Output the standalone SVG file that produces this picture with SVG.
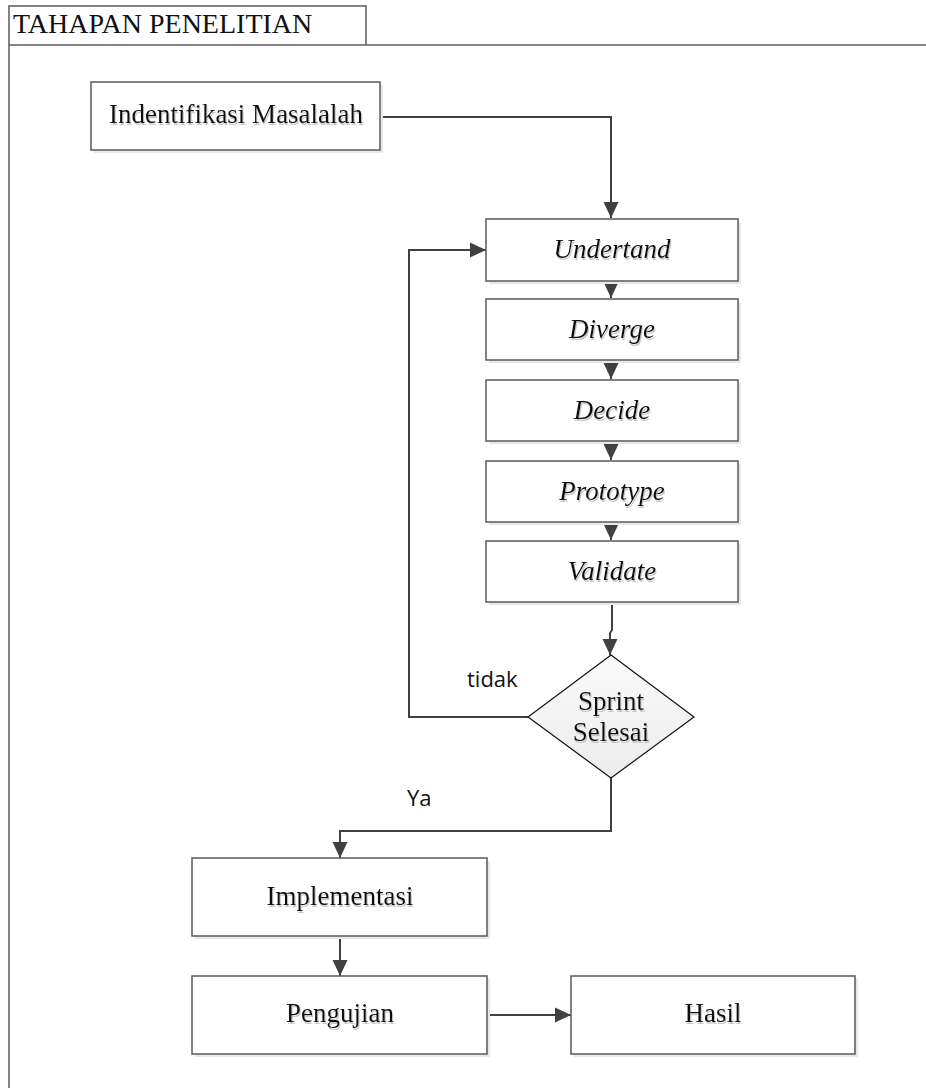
<svg xmlns="http://www.w3.org/2000/svg" width="926" height="1088" viewBox="0 0 926 1088">
  <defs>
    <style>
      .frame { fill: none; stroke: #5a5a5a; stroke-width: 1.5; }
      .box { fill: #ffffff; stroke: #5a5a5a; stroke-width: 1.5; }
      .shadow { fill: #e8e8e8; stroke: none; }
      .edge { fill: none; stroke: #404040; stroke-width: 2; }
    </style>
    <marker id="arr" markerWidth="18" markerHeight="18" refX="16" refY="8" orient="auto" markerUnits="userSpaceOnUse">
      <path d="M0,0.5 L16,8 L0,15.5 Z" fill="#404040"/>
    </marker>
    <linearGradient id="dfill" x1="0" y1="0" x2="0" y2="1">
      <stop offset="0" stop-color="#fafafa"/>
      <stop offset="1" stop-color="#ececec"/>
    </linearGradient>
    <filter id="ts" x="-10%" y="-30%" width="120%" height="160%">
      <feDropShadow dx="1" dy="2" stdDeviation="0.6" flood-color="#bbbbbb" flood-opacity="0.8"/>
    </filter>
  </defs>

  <!-- swimlane frame with title tab -->
  <g id="frame">
    <path class="frame" d="M9,1088 V6 H366 V45"/>
    <line class="frame" x1="9" y1="45" x2="926" y2="45"/>
    <text x="13" y="33" font-family="Liberation Serif, serif" font-size="28" fill="#111">TAHAPAN PENELITIAN</text>
  </g>

  <!-- connectors -->
  <g id="connectors">
    <path class="edge" d="M380,117 H611 V218" marker-end="url(#arr)"/>
    <path class="edge" d="M611,281 V298" marker-end="url(#arr)"/>
    <path class="edge" d="M611,360 V379" marker-end="url(#arr)"/>
    <path class="edge" d="M611,441 V460" marker-end="url(#arr)"/>
    <path class="edge" d="M611,522 V540" marker-end="url(#arr)"/>
    <path class="edge" d="M612,602 V630 L610,633 V655" marker-end="url(#arr)"/>
    <path class="edge" d="M528,717 H409 V250 H486" marker-end="url(#arr)"/>
    <path class="edge" d="M611,778 V831 H340 V858" marker-end="url(#arr)"/>
    <path class="edge" d="M340,936 V976" marker-end="url(#arr)"/>
    <path class="edge" d="M487,1015 H571" marker-end="url(#arr)"/>
    <g font-family="Open Sans, Liberation Sans, sans-serif" font-size="22" fill="#111">
      <text x="467" y="687">tidak</text>
      <text x="407" y="806">Ya</text>
    </g>
  </g>

  <g font-family="Liberation Serif, serif" font-size="27" fill="#111" text-anchor="middle">
    <g id="identifikasi">
      <rect class="shadow" x="94" y="85" width="289" height="68"/>
      <rect class="box" x="91" y="82" width="289" height="68"/>
      <text x="236" y="123" filter="url(#ts)">Indentifikasi Masalalah</text>
    </g>

    <g id="understand" font-style="italic">
      <rect class="shadow" x="489" y="222" width="252" height="62"/>
      <rect class="box" x="486" y="219" width="252" height="62"/>
      <text x="612" y="258" filter="url(#ts)">Undertand</text>
    </g>

    <g id="diverge" font-style="italic">
      <rect class="shadow" x="489" y="302" width="252" height="61"/>
      <rect class="box" x="486" y="299" width="252" height="61"/>
      <text x="612" y="338" filter="url(#ts)">Diverge</text>
    </g>

    <g id="decide" font-style="italic">
      <rect class="shadow" x="489" y="383" width="252" height="61"/>
      <rect class="box" x="486" y="380" width="252" height="61"/>
      <text x="612" y="419" filter="url(#ts)">Decide</text>
    </g>

    <g id="prototype" font-style="italic">
      <rect class="shadow" x="489" y="464" width="252" height="61"/>
      <rect class="box" x="486" y="461" width="252" height="61"/>
      <text x="612" y="500" filter="url(#ts)">Prototype</text>
    </g>

    <g id="validate" font-style="italic">
      <rect class="shadow" x="489" y="544" width="252" height="61"/>
      <rect class="box" x="486" y="541" width="252" height="61"/>
      <text x="612" y="580" filter="url(#ts)">Validate</text>
    </g>

    <g id="sprint-selesai">
      <path d="M611,655 L694,717 L611,778 L528,717 Z" fill="url(#dfill)" stroke="#111" stroke-width="1.2"/>
      <text x="611" y="710" filter="url(#ts)">Sprint</text>
      <text x="611" y="741" filter="url(#ts)">Selesai</text>
    </g>

    <g id="implementasi">
      <rect class="shadow" x="195" y="861" width="295" height="78"/>
      <rect class="box" x="192" y="858" width="295" height="78"/>
      <text x="340" y="905" filter="url(#ts)">Implementasi</text>
    </g>

    <g id="pengujian">
      <rect class="shadow" x="195" y="979" width="295" height="78"/>
      <rect class="box" x="192" y="976" width="295" height="78"/>
      <text x="340" y="1022" filter="url(#ts)">Pengujian</text>
    </g>

    <g id="hasil">
      <rect class="shadow" x="574" y="979" width="284" height="78"/>
      <rect class="box" x="571" y="976" width="284" height="78"/>
      <text x="713" y="1022" filter="url(#ts)">Hasil</text>
    </g>
  </g>
</svg>
